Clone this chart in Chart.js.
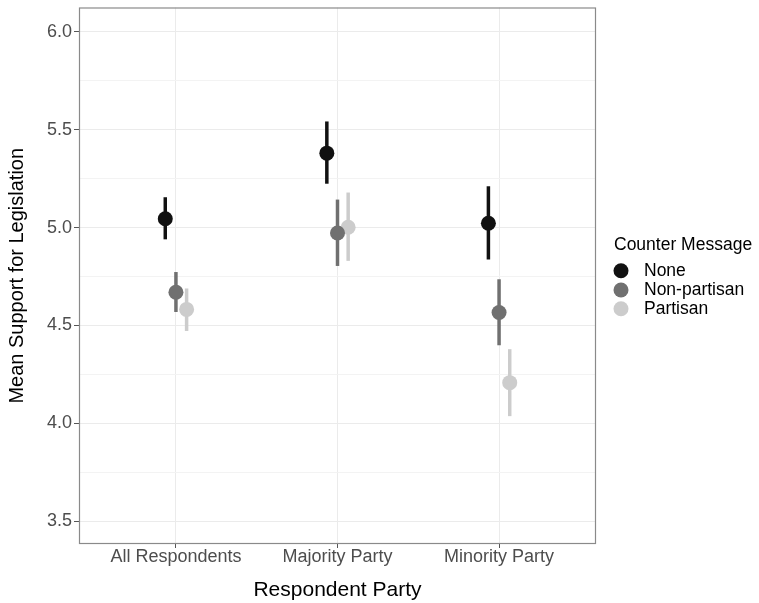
<!DOCTYPE html>
<html>
<head>
<meta charset="utf-8">
<script src="https://cdn.jsdelivr.net/npm/chart.js@4/dist/chart.umd.min.js"></script>
<style>
  html, body { margin: 0; padding: 0; background: #fff; }
  #wrap { width: 759px; height: 603px; }
</style>
</head>
<body>
<div id="wrap"><canvas id="chart" width="759" height="603"></canvas></div>
<script>
// categories on the x axis, and the three counter-message groups
const categories = ['All Respondents', 'Majority Party', 'Minority Party'];
const groups = ['None', 'Non-partisan', 'Partisan'];

// means and 95% interval ends, one value per category
const meanNone = [5.045, 5.380, 5.022];
const lowNone  = [4.940, 5.224, 4.837];
const highNone = [5.155, 5.542, 5.211];

const meanNonPartisan = [4.670, 4.972, 4.566];
const lowNonPartisan  = [4.569, 4.804, 4.399];
const highNonPartisan = [4.773, 5.143, 4.736];

const meanPartisan = [4.582, 5.002, 4.208];
const lowPartisan  = [4.472, 4.830, 4.037];
const highPartisan = [4.689, 5.179, 4.379];

const yTicks = [3.5, 3.75, 4.0, 4.25, 4.5, 4.75, 5.0, 5.25, 5.5, 5.75, 6.0];

const colors = ['#111111', '#707070', '#cccccc'];
const DODGE = 0.066;
const FONT = '"Liberation Sans", Arial, sans-serif';

const series = [
  { mean: meanNone, low: lowNone, high: highNone },
  { mean: meanNonPartisan, low: lowNonPartisan, high: highNonPartisan },
  { mean: meanPartisan, low: lowPartisan, high: highPartisan }
];

function xPos(ci, gi) {
  return ci + 1 + (gi - 1) * DODGE;
}

const datasets = series.map((s, gi) => ({
  label: groups[gi],
  data: s.mean.map((m, ci) => ({ x: xPos(ci, gi), y: m })),
  backgroundColor: colors[gi],
  borderWidth: 0,
  pointRadius: 7.5,
  pointHoverRadius: 7.5
}));

const isMajor = v => Math.abs(v * 2 - Math.round(v * 2)) < 1e-6;

// vertical error bars under the points, panel border on top
const errorBars = {
  id: 'errorBars',
  beforeDatasetsDraw(chart) {
    const { ctx, scales: { x, y } } = chart;
    ctx.save();
    ctx.lineWidth = 3.5;
    ctx.lineCap = 'butt';
    series.forEach((s, gi) => {
      ctx.strokeStyle = colors[gi];
      s.mean.forEach((m, ci) => {
        const px = x.getPixelForValue(xPos(ci, gi));
        ctx.beginPath();
        ctx.moveTo(px, y.getPixelForValue(s.low[ci]));
        ctx.lineTo(px, y.getPixelForValue(s.high[ci]));
        ctx.stroke();
      });
    });
    ctx.restore();
  },
  afterDatasetsDraw(chart) {
    const { ctx, chartArea: a } = chart;
    ctx.save();
    ctx.strokeStyle = '#8a8a8a';
    ctx.lineWidth = 1.2;
    ctx.strokeRect(a.left + 0.5, a.top + 0.5, a.right - a.left - 1, a.bottom - a.top - 1);
    ctx.restore();
  }
};

// ggplot-style legend on the right
const sideLegend = {
  id: 'sideLegend',
  afterDraw(chart) {
    const { ctx } = chart;
    ctx.save();
    ctx.fillStyle = '#000';
    ctx.font = '17.5px ' + FONT;
    ctx.textBaseline = 'alphabetic';
    ctx.textAlign = 'left';
    ctx.fillText('Counter Message', 614, 249.5);
    const rows = [270.7, 290, 308.7];
    groups.forEach((g, gi) => {
      ctx.fillStyle = colors[gi];
      ctx.beginPath();
      ctx.arc(621, rows[gi], 7.5, 0, Math.PI * 2);
      ctx.fill();
      ctx.fillStyle = '#000';
      ctx.textBaseline = 'middle';
      ctx.fillText(g, 644, rows[gi] + 0.5);
    });
    ctx.restore();
  }
};

new Chart(document.getElementById('chart'), {
  type: 'scatter',
  data: { datasets },
  plugins: [errorBars, sideLegend],
  options: {
    responsive: false,
    devicePixelRatio: 1,
    animation: false,
    events: [],
    layout: { padding: { top: 7, right: 163, left: 0, bottom: 0 } },
    plugins: { legend: { display: false }, tooltip: { enabled: false } },
    scales: {
      x: {
        type: 'linear',
        min: 0.4,
        max: 3.6,
        afterBuildTicks: s => { s.ticks = [1, 2, 3].map(v => ({ value: v })); },
        afterFit: s => { s.height = 59; s.paddingLeft = 0; s.paddingRight = 0; },
        ticks: {
          autoSkip: false,
          maxRotation: 0,
          padding: -1.7,
          color: '#4d4d4d',
          font: { family: FONT, size: 18 },
          callback: v => categories[v - 1]
        },
        grid: { color: '#ebebeb', lineWidth: 1, tickLength: 4, tickColor: '#555' },
        border: { display: false },
        title: {
          display: true,
          text: 'Respondent Party',
          color: '#000',
          font: { family: FONT, size: 21 },
          padding: { top: 0, bottom: 0 }
        }
      },
      y: {
        min: 3.384,
        max: 6.124,
        afterBuildTicks: s => { s.ticks = yTicks.map(v => ({ value: v })); },
        afterFit: s => { s.width = 79; s.paddingTop = 0; s.paddingBottom = 0; },
        ticks: {
          autoSkip: false,
          padding: 2,
          color: '#4d4d4d',
          font: { family: FONT, size: 18 },
          callback: v => isMajor(v) ? v.toFixed(1) : ''
        },
        grid: {
          color: c => isMajor(c.tick.value) ? '#ebebeb' : '#f3f3f3',
          lineWidth: 1,
          tickLength: 5,
          tickColor: c => isMajor(c.tick.value) ? '#555' : 'rgba(0,0,0,0)'
        },
        border: { display: false },
        title: {
          display: true,
          text: 'Mean Support for Legislation',
          color: '#000',
          font: { family: FONT, size: 20 },
          padding: { top: 5, bottom: 0 }
        }
      }
    }
  }
});
</script>
</body>
</html>
